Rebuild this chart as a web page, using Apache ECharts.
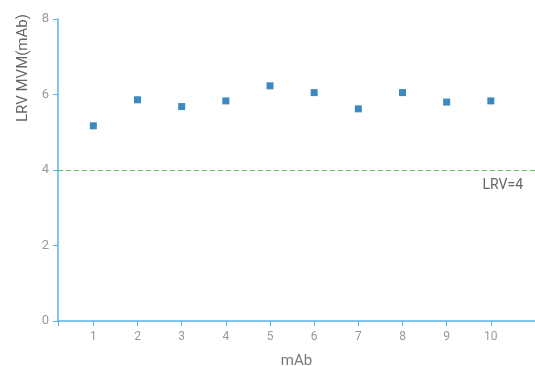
<!DOCTYPE html>
<html>
<head>
<meta charset="utf-8">
<script src="https://cdn.jsdelivr.net/npm/echarts@6/dist/echarts.min.js"></script>
<style>html,body{margin:0;padding:0;background:#fff}#c{width:535px;height:366px}</style>
</head>
<body>
<div id="c"></div>
<script>
var categories = [1, 2, 3, 4, 5, 6, 7, 8, 9, 10];
var values = [5.17, 5.86, 5.68, 5.83, 6.23, 6.05, 5.62, 6.05, 5.80, 5.83];
var yTicks = [0, 2, 4, 6, 8];
var lrv = 4;

var chart = echarts.init(document.getElementById('c'), null, {renderer: 'canvas'});
var axisColor = '#55b6e6';
var lineStyleLRV = {color: '#5cc05c', type: [5, 3], width: 1, opacity: 1};
chart.setOption({
  animation: false,
  textStyle: {fontFamily: 'Roboto'},
  grid: {left: 58, right: 0, top: 19, bottom: 45, containLabel: false, outerBoundsMode: 'none'},
  xAxis: {
    type: 'value', min: 0.2, max: 11,
    name: 'mAb', nameLocation: 'middle', nameGap: 33,
    nameTextStyle: {color: '#777', fontSize: 15},
    axisLine: {show: true, lineStyle: {color: axisColor, width: 1.5}},
    axisTick: {show: true, length: 5, lineStyle: {color: axisColor}, customValues: [0.2].concat(categories)},
    axisLabel: {color: '#999', fontSize: 12, margin: 10, customValues: categories},
    splitLine: {show: false}
  },
  yAxis: {
    type: 'value', min: 0, max: 8, interval: 2,
    name: 'LRV MVM(mAb)', nameLocation: 'middle', nameGap: 27,
    nameTextStyle: {color: '#666', fontSize: 15, padding: [0, 0, 0, 204]},
    axisLine: {show: true, lineStyle: {color: axisColor, width: 1.5}},
    axisTick: {show: true, length: 5, lineStyle: {color: axisColor}},
    axisLabel: {color: '#999', fontSize: 13, margin: 9},
    splitLine: {show: false}
  },
  series: [{
    type: 'scatter',
    symbol: 'rect',
    symbolSize: 7,
    itemStyle: {color: '#3a89c3', opacity: 1},
    data: categories.map(function (c, i) { return [c, values[i]]; }),
    markLine: {
      silent: true,
      symbol: 'none',
      lineStyle: lineStyleLRV,
      label: {show: true, position: 'insideEndBottom', formatter: 'LRV=' + lrv, color: '#666', fontSize: 14, distance: [12, 8]},
      data: [{yAxis: lrv, lineStyle: lineStyleLRV}]
    }
  }]
});
</script>
</body>
</html>
